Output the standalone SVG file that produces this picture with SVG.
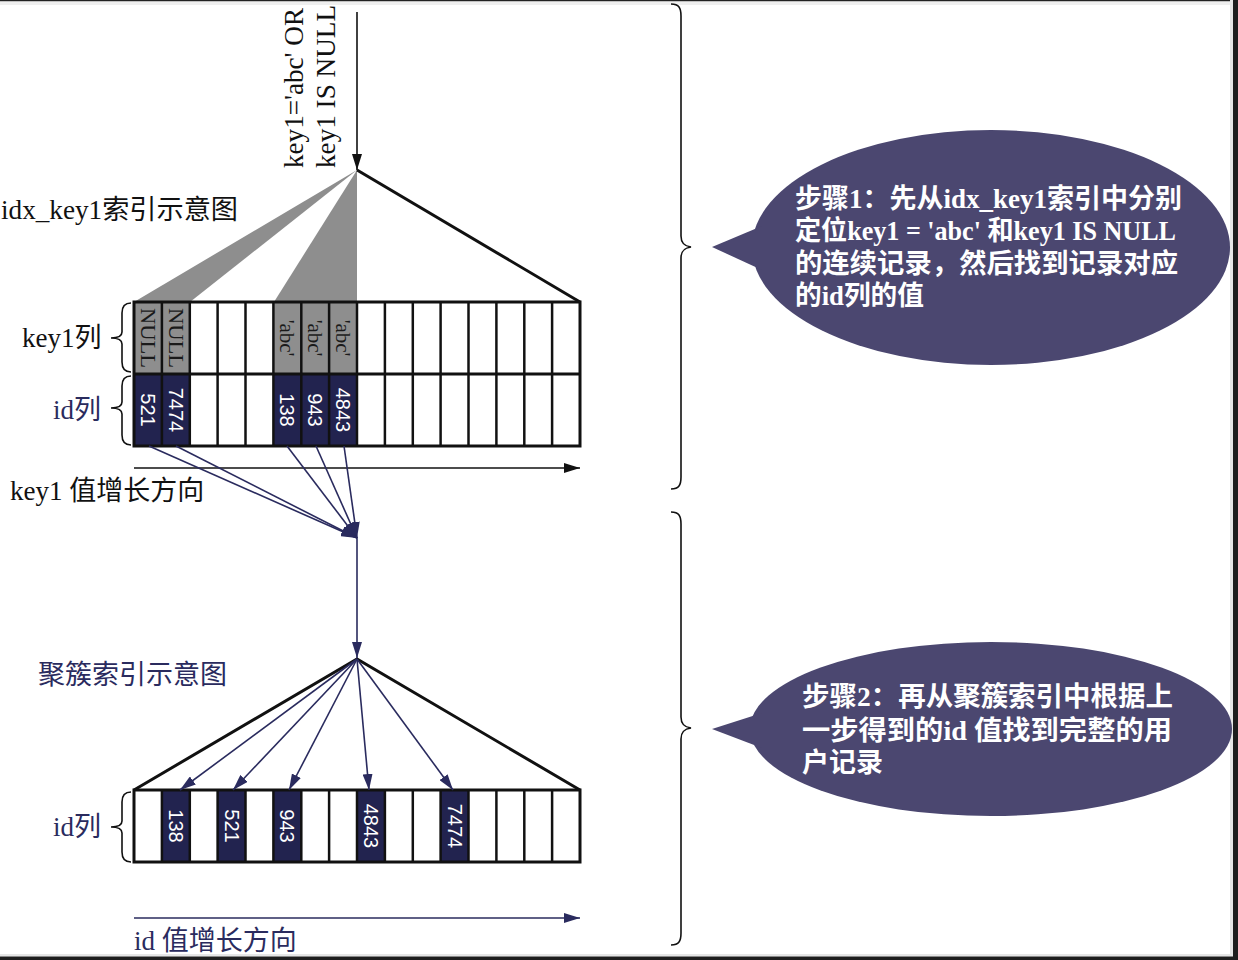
<svg xmlns="http://www.w3.org/2000/svg" width="1238" height="960" viewBox="0 0 1238 960">
<style>
.lbl{font-family:"Liberation Serif","Noto Sans CJK SC",serif;font-size:27px;fill:#111}
.nv{fill:#2a2b5e}
.grid{fill:none;stroke:#111;stroke-width:3}
.cl{stroke:#111;stroke-width:2.5}
.gray{fill:#8e8e8e}
.navy{fill:#22234f}
.ct{font-family:"Liberation Serif",serif;font-size:21px;fill:#1a1a1a;text-anchor:middle;dominant-baseline:central}
.num{font-family:"Liberation Sans",Arial,sans-serif;font-size:20px;fill:#fff;text-anchor:middle;dominant-baseline:central}
.conn{stroke:#2a2b5e;stroke-width:1.6;fill:none}
.brace{fill:none;stroke:#111;stroke-width:1.6}
.bub{fill:#4b4770}
.bt{font-family:"Liberation Serif","Noto Sans CJK SC",serif;font-size:27px;font-weight:bold;fill:#fff}
</style>
<defs>
<marker id="ah" viewBox="0 0 16 10" markerUnits="userSpaceOnUse" markerWidth="16" markerHeight="10" refX="16" refY="5" orient="auto"><path d="M0,0 L16,5 L0,10 z" fill="#2a2b5e"/></marker>
<marker id="ahb" viewBox="0 0 16 10" markerUnits="userSpaceOnUse" markerWidth="16" markerHeight="10" refX="16" refY="5" orient="auto"><path d="M0,0 L16,5 L0,10 z" fill="#111"/></marker>
</defs>
<rect x="0" y="0" width="1238" height="960" fill="#fff"/>
<!-- frame -->
<rect x="0" y="0" width="1238" height="1.5" fill="#222"/>
<rect x="0" y="1.5" width="1233" height="3.5" fill="#efefef"/>
<rect x="1230" y="0" width="3" height="957" fill="#e6e6e6"/>
<rect x="1233" y="0" width="5" height="960" fill="#1e1e1e"/>
<rect x="0" y="954" width="1233" height="2.5" fill="#e6e6e6"/>
<rect x="0" y="956.5" width="1238" height="3.5" fill="#1e1e1e"/>

<g id="query-label">
<text class="lbl" font-size="25" transform="translate(303,168) rotate(-90)" textLength="160" lengthAdjust="spacingAndGlyphs">key1='abc' OR</text>
<text class="lbl" font-size="25" transform="translate(335,168) rotate(-90)" textLength="163" lengthAdjust="spacingAndGlyphs">key1 IS NULL</text>
</g>

<g id="idx-title"><text class="lbl" x="1" y="219" font-size="24" textLength="237" lengthAdjust="spacingAndGlyphs">idx_key1索引示意图</text></g>

<g id="idx-tree">
<polygon class="gray" points="357,170 134,302 190,302"/>
<polygon class="gray" points="357,170 274,302 357,302"/>
<line x1="357" y1="170" x2="580" y2="302" stroke="#111" stroke-width="3"/>
</g>

<g id="idx-grid">
<rect class="gray" x="134" y="302" width="56" height="72"/>
<rect class="gray" x="273.4" y="302" width="83.6" height="72"/>
<rect class="navy" x="134" y="374" width="56" height="72"/>
<rect class="navy" x="273.4" y="374" width="83.6" height="72"/>
<g class="cl">
<line x1="161.9" y1="302" x2="161.9" y2="446"/><line x1="189.8" y1="302" x2="189.8" y2="446"/>
<line x1="217.6" y1="302" x2="217.6" y2="446"/><line x1="245.5" y1="302" x2="245.5" y2="446"/>
<line x1="273.4" y1="302" x2="273.4" y2="446"/><line x1="301.3" y1="302" x2="301.3" y2="446"/>
<line x1="329.1" y1="302" x2="329.1" y2="446"/><line x1="357" y1="302" x2="357" y2="446"/>
<line x1="384.9" y1="302" x2="384.9" y2="446"/><line x1="412.8" y1="302" x2="412.8" y2="446"/>
<line x1="440.6" y1="302" x2="440.6" y2="446"/><line x1="468.5" y1="302" x2="468.5" y2="446"/>
<line x1="496.4" y1="302" x2="496.4" y2="446"/><line x1="524.3" y1="302" x2="524.3" y2="446"/>
<line x1="552.1" y1="302" x2="552.1" y2="446"/>
<line x1="134" y1="374" x2="580" y2="374" stroke-width="3"/>
</g>
<rect class="grid" x="134" y="302" width="446" height="144"/>
<text class="ct" transform="translate(148,338) rotate(90)" textLength="60" lengthAdjust="spacingAndGlyphs">NULL</text>
<text class="ct" transform="translate(176,338) rotate(90)" textLength="60" lengthAdjust="spacingAndGlyphs">NULL</text>
<text class="ct" transform="translate(287.3,338) rotate(90)">'abc'</text>
<text class="ct" transform="translate(315.2,338) rotate(90)">'abc'</text>
<text class="ct" transform="translate(343.1,338) rotate(90)">'abc'</text>
<text class="num" transform="translate(148,410) rotate(90)">521</text>
<text class="num" transform="translate(176,410) rotate(90)">7474</text>
<text class="num" transform="translate(287.3,410) rotate(90)">138</text>
<text class="num" transform="translate(315.2,410) rotate(90)">943</text>
<text class="num" transform="translate(343.1,410) rotate(90)">4843</text>
</g>

<g id="idx-labels">
<text class="lbl" x="22" y="347">key1列</text>
<path class="brace" d="M131,303 C124,303 122,307 122,313 L122,332 C122,336 119,338 111,338 C119,338 122,340 122,344 L122,362 C122,368 124,372 131,372"/>
<text class="lbl nv" x="53" y="419">id列</text>
<path class="brace" stroke="#2a2b5e" d="M131,376 C124,376 122,380 122,386 L122,402 C122,406 119,408 111,408 C119,408 122,410 122,414 L122,435 C122,441 124,445 131,445"/>
<text class="lbl" x="10" y="500" font-size="28">key1 值增长方向</text>
</g>

<g id="cluster-title"><text class="lbl nv" x="38" y="684" font-size="28">聚簇索引示意图</text></g>

<g id="cluster-tree">
<polyline points="134,790 357,659 580,790" fill="none" stroke="#111" stroke-width="3"/>
</g>

<g id="cluster-grid">
<rect class="navy" x="161.9" y="790" width="27.9" height="72"/>
<rect class="navy" x="217.6" y="790" width="27.9" height="72"/>
<rect class="navy" x="273.4" y="790" width="27.9" height="72"/>
<rect class="navy" x="357" y="790" width="27.9" height="72"/>
<rect class="navy" x="440.6" y="790" width="27.9" height="72"/>
<g class="cl">
<line x1="161.9" y1="790" x2="161.9" y2="862"/><line x1="189.8" y1="790" x2="189.8" y2="862"/>
<line x1="217.6" y1="790" x2="217.6" y2="862"/><line x1="245.5" y1="790" x2="245.5" y2="862"/>
<line x1="273.4" y1="790" x2="273.4" y2="862"/><line x1="301.3" y1="790" x2="301.3" y2="862"/>
<line x1="329.1" y1="790" x2="329.1" y2="862"/><line x1="357" y1="790" x2="357" y2="862"/>
<line x1="384.9" y1="790" x2="384.9" y2="862"/><line x1="412.8" y1="790" x2="412.8" y2="862"/>
<line x1="440.6" y1="790" x2="440.6" y2="862"/><line x1="468.5" y1="790" x2="468.5" y2="862"/>
<line x1="496.4" y1="790" x2="496.4" y2="862"/><line x1="524.3" y1="790" x2="524.3" y2="862"/>
<line x1="552.1" y1="790" x2="552.1" y2="862"/>
</g>
<rect class="grid" x="134" y="790" width="446" height="72"/>
<text class="num" font-size="21" transform="translate(175.8,826) rotate(90)">138</text>
<text class="num" font-size="21" transform="translate(231.6,826) rotate(90)">521</text>
<text class="num" font-size="21" transform="translate(287.3,826) rotate(90)">943</text>
<text class="num" font-size="21" transform="translate(371,826) rotate(90)">4843</text>
<text class="num" font-size="21" transform="translate(454.6,826) rotate(90)">7474</text>
</g>

<g id="cluster-labels">
<text class="lbl nv" x="53" y="836">id列</text>
<path class="brace" stroke="#2a2b5e" d="M131,792 C124,792 122,796 122,802 L122,821 C122,825 119,827 111,827 C119,827 122,829 122,833 L122,852 C122,858 124,862 131,862"/>
<text class="lbl nv" x="134" y="950" font-size="28">id 值增长方向</text>
</g>

<g id="connectors">
<line x1="357" y1="12" x2="357" y2="170" stroke="#111" stroke-width="1.6" marker-end="url(#ahb)"/>
<line x1="134" y1="468" x2="580" y2="468" stroke="#111" stroke-width="1.6" marker-end="url(#ahb)"/>
<line class="conn" x1="134" y1="918" x2="580" y2="918" marker-end="url(#ah)"/>
<line class="conn" x1="149" y1="446" x2="357" y2="538" marker-end="url(#ah)"/>
<line class="conn" x1="176" y1="446" x2="357" y2="538" marker-end="url(#ah)"/>
<line class="conn" x1="287" y1="446" x2="357" y2="538" marker-end="url(#ah)"/>
<line class="conn" x1="316" y1="446" x2="357" y2="538" marker-end="url(#ah)"/>
<line class="conn" x1="344" y1="446" x2="357" y2="538" marker-end="url(#ah)"/>
<line class="conn" x1="357" y1="538" x2="357" y2="658" marker-end="url(#ah)"/>
<line class="conn" x1="357" y1="659" x2="180" y2="790" marker-end="url(#ah)"/>
<line class="conn" x1="357" y1="659" x2="233" y2="790" marker-end="url(#ah)"/>
<line class="conn" x1="357" y1="659" x2="289" y2="790" marker-end="url(#ah)"/>
<line class="conn" x1="357" y1="659" x2="369" y2="790" marker-end="url(#ah)"/>
<line class="conn" x1="357" y1="659" x2="453" y2="790" marker-end="url(#ah)"/>
</g>

<g id="step1">
<path class="brace" d="M671,4 C679,4 681,8 681,16 L681,236 C681,243 684,246 691,247 C684,248 681,251 681,258 L681,477 C681,485 679,489 671,489"/>
<ellipse class="bub" cx="991" cy="247.5" rx="239" ry="117.5"/>
<polygon class="bub" points="762,226 712,247 762,270"/>
<text class="bt" x="795" y="208" textLength="387" lengthAdjust="spacingAndGlyphs">步骤1：先从idx_key1索引中分别</text>
<text class="bt" x="795" y="240" textLength="381" lengthAdjust="spacingAndGlyphs">定位key1 = 'abc' 和key1 IS NULL</text>
<text class="bt" x="795" y="273" textLength="383" lengthAdjust="spacingAndGlyphs">的连续记录，然后找到记录对应</text>
<text class="bt" x="795" y="305" textLength="129" lengthAdjust="spacingAndGlyphs">的id列的值</text>
</g>

<g id="step2">
<path class="brace" d="M671,512 C679,512 681,516 681,524 L681,717 C681,724 684,727 691,728 C684,729 681,732 681,739 L681,933 C681,941 679,945 671,945"/>
<ellipse class="bub" cx="991" cy="729" rx="241" ry="87"/>
<polygon class="bub" points="762,713 712,729 762,748"/>
<text class="bt" x="802" y="706" textLength="371" lengthAdjust="spacingAndGlyphs">步骤2：再从聚簇索引中根据上</text>
<text class="bt" x="802" y="740" textLength="370" lengthAdjust="spacingAndGlyphs">一步得到的id 值找到完整的用</text>
<text class="bt" x="802" y="772" textLength="81" lengthAdjust="spacingAndGlyphs">户记录</text>
</g>
</svg>
